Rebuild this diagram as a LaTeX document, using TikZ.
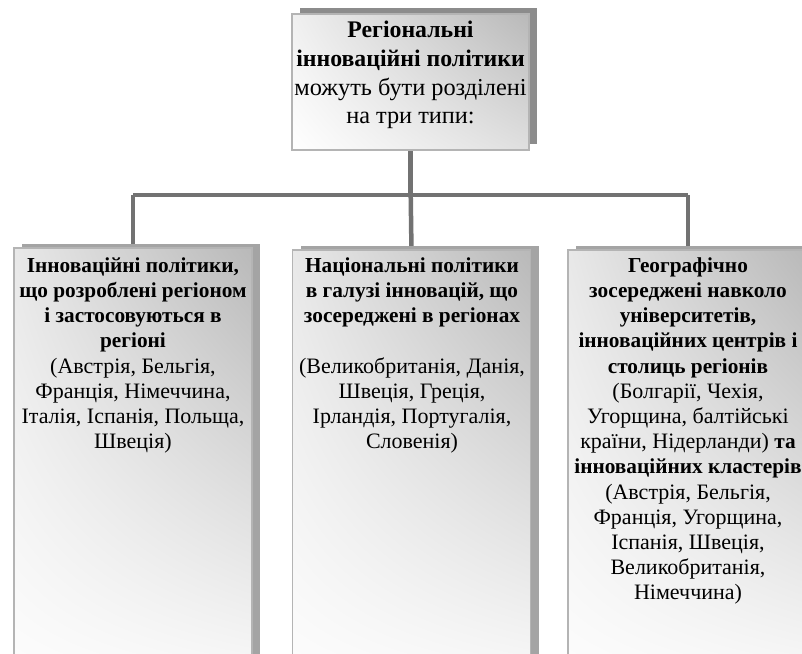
\documentclass[tikz,border=0pt]{standalone}
\usepackage{fontspec}
\setmainfont{Liberation Serif}
\usetikzlibrary{shadows,shadings}
\definecolor{conn}{HTML}{727272}
\definecolor{shadowgray}{HTML}{A4A4A4}
\definecolor{topshadow}{HTML}{8C8C8C}
\definecolor{boxline}{HTML}{B4B4B4}
\newcommand{\firstlow}{\rule{0pt}{22pt}}
\newcommand{\firsttop}{\rule{0pt}{25pt}}
\newcommand{\lb}[1]{{\fontsize{21.3}{25.2}\selectfont\bfseries #1}}
\newcommand{\tb}[1]{{\fontsize{23.8}{28.9}\selectfont\bfseries #1}}
\tikzset{
  x=1pt, y=-1pt,
  connector/.style={draw=conn, line width=4.5pt},
  lowbox/.style={draw=boxline, line width=1.4pt, minimum width=238pt, minimum height=470pt, inner sep=0pt,
     shade, upper left=gray!18, upper right=gray!55, lower left=white, lower right=white,
     drop shadow={shadow xshift=8pt, shadow yshift=4pt, fill=shadowgray, opacity=1}},
  topbox/.style={draw=boxline, line width=1.4pt, minimum width=237pt, minimum height=136pt, inner sep=0pt,
     shade, upper left=gray!12, upper right=gray!55, lower left=white, lower right=gray!25,
     drop shadow={shadow xshift=8pt, shadow yshift=6pt, fill=topshadow, opacity=1}},
  lowtext/.style={anchor=north, inner sep=0pt, align=center, font=\fontsize{22}{25.2}\selectfont},
  toptext/.style={anchor=north, inner sep=0pt, align=center, font=\fontsize{24.3}{28.9}\selectfont}
}
\begin{document}
\begin{tikzpicture}
\useasboundingbox (0,0) rectangle (802,653);
\clip (0,0) rectangle (802,653);
\fill[white] (0,0) rectangle (802,653);
% connectors first (behind the boxes)
\coordinate (j) at (410.7,195);
\coordinate (jl) at (133,195);
\coordinate (jr) at (688,195);
\coordinate (c1) at (133,250);
\coordinate (c2) at (411.5,252);
\coordinate (c3) at (688,252);
\draw[connector] (410.7,150) -- (j);
\draw[connector] (jl) -- (jr);
\draw[connector] (jl) -- (c1);
\draw[connector] (j) -- (c2);
\draw[connector] (jr) -- (c3);
% boxes
\node[topbox] (top) at (410.5,82) {};
\node[lowbox] (b1) at (133,483) {};
\node[lowbox] (b2) at (411.5,485) {};
\node[lowbox] (b3) at (687,485) {};
% texts
\node[toptext] (ttop) at (410.5,12) {\firsttop\tb{Регіональні}\\\tb{інноваційні політики}\\можуть бути розділені\\на три типи:};
\node[lowtext] (t1) at (133,250) {\firstlow\lb{Інноваційні політики,}\\\lb{що розроблені регіоном}\\\lb{і застосовуються в}\\\lb{регіоні}\\(Австрія, Бельгія,\\Франція, Німеччина,\\Італія, Іспанія, Польща,\\Швеція)};
\node[lowtext] (t2) at (412,250) {\firstlow\lb{Національні політики}\\\lb{в галузі інновацій, що}\\\lb{зосереджені в регіонах}\\[25.2pt](Великобританія, Данія,\\Швеція, Греція,\\Ірландія, Португалія,\\Словенія)};
\node[lowtext] (t3) at (688,250) {\firstlow\lb{Географічно}\\\lb{зосереджені навколо}\\\lb{університетів,}\\\lb{інноваційних центрів і}\\\lb{столиць регіонів}\\(Болгарії, Чехія,\\Угорщина, балтійські\\країни, Нідерланди) \lb{та}\\\lb{інноваційних кластерів}\\(Австрія, Бельгія,\\Франція, Угорщина,\\Іспанія, Швеція,\\Великобританія,\\Німеччина)};
\end{tikzpicture}
\end{document}
